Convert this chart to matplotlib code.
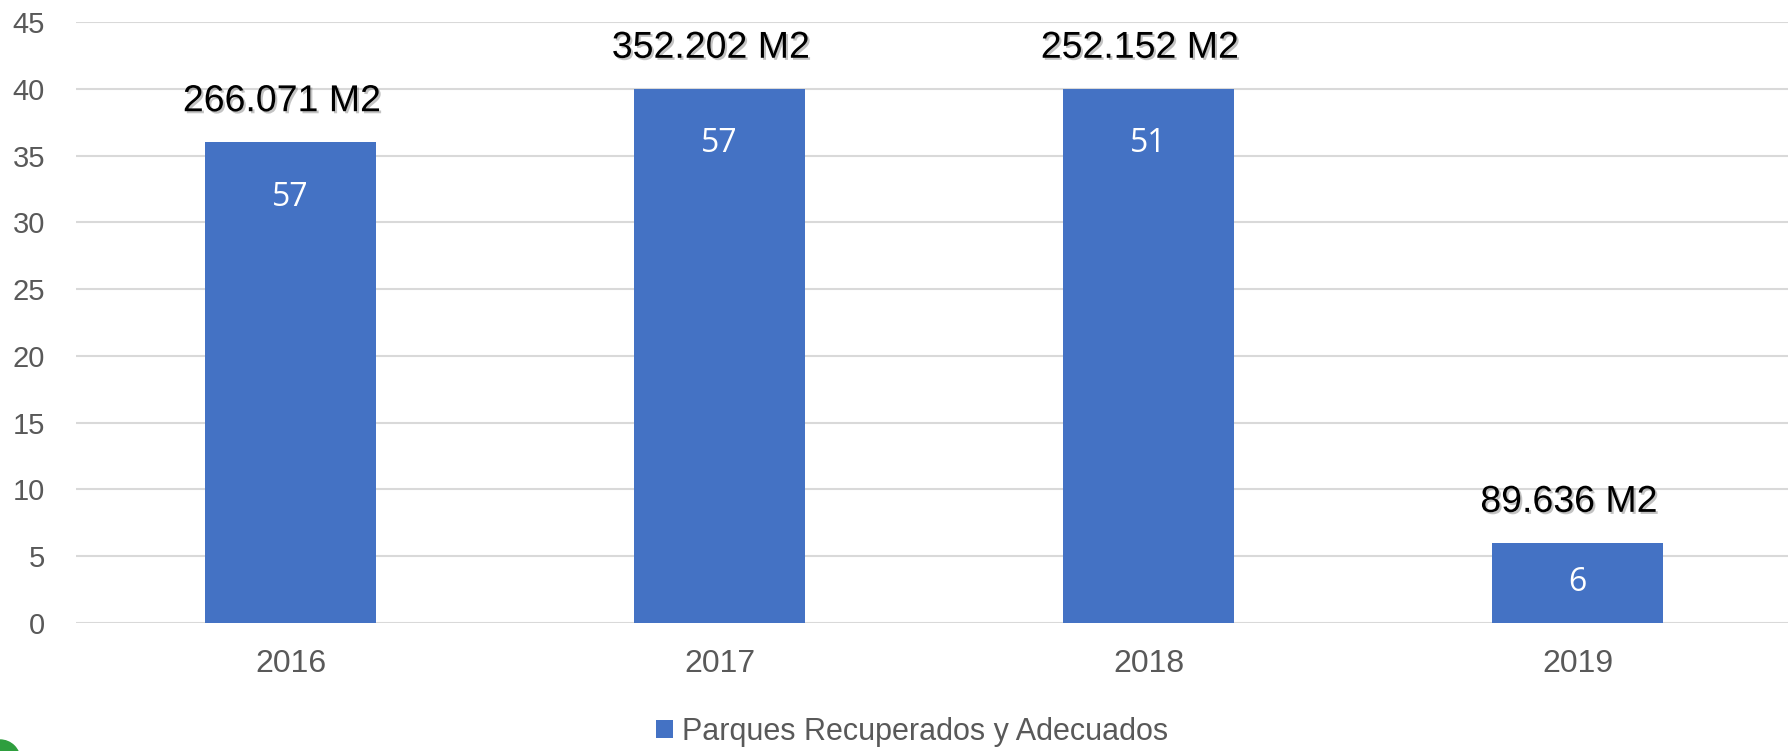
import matplotlib
matplotlib.use("Agg")
import matplotlib.pyplot as plt
import matplotlib.patheffects as pe
from matplotlib.patches import Ellipse

years = ["2016", "2017", "2018", "2019"]
heights = [36, 40, 40, 6]
inner_labels = ["57", "57", "51", "6"]
area_labels = ["266.071 M2", "352.202 M2", "252.152 M2", "89.636 M2"]
series_name = "Parques Recuperados y Adecuados"
yticks = [0, 5, 10, 15, 20, 25, 30, 35, 40, 45]

plt.rcParams['font.family'] = ['Liberation Sans', 'DejaVu Sans']

W, H, DPI = 1788, 751, 100
PT = 72 / DPI  # points per pixel
fig = plt.figure(figsize=(W / DPI, H / DPI), dpi=DPI)
ax = fig.add_axes([76 / W, 1 - 623 / H, 4 * 429 / W, (623 - 22) / H])

bar_color = "#4472C4"
x = list(range(len(years)))
bars = ax.bar(x, heights, width=0.4, color=bar_color, zorder=3, label=series_name)

ax.set_xlim(-0.5, 3.5)
ax.set_ylim(0, 45)
ax.set_yticks(yticks)
ax.set_xticks(x)
ax.set_xticklabels(years)
ax.yaxis.grid(True, color="#d9d9d9", linewidth=1.5, zorder=0)
ax.set_axisbelow(True)
for s in ax.spines.values():
    s.set_visible(False)
ax.tick_params(axis="y", length=0, pad=31 * PT, labelsize=21, labelcolor="#595959")
ax.tick_params(axis="x", length=0, pad=26 * PT, labelsize=23, labelcolor="#595959")

# pixels per data unit
ppu = (623 - 22) / 45.0
for xi, h, lab, area in zip(x, heights, inner_labels, area_labels):
    bar_px = h * ppu
    off_px = 55 if bar_px > 110 else bar_px / 2
    ax.annotate(lab, (xi, h), xytext=(0, -off_px * PT), textcoords="offset points",
                ha="center", va="center", color="white", fontsize=23,
                family=["Open Sans", "DejaVu Sans"], zorder=5)
    ax.annotate(area, (xi - 0.02, h), xytext=(0, 41 * PT), textcoords="offset points",
                ha="center", va="center", color="black", fontsize=27, zorder=5,
                path_effects=[pe.SimplePatchShadow(offset=(1.5, -1.5), alpha=0.35, shadow_rgbFace="#555555"),
                              pe.Normal()])

leg = fig.legend(handles=[bars], labels=[series_name], loc="center",
                 bbox_to_anchor=(912 / W, 1 - 732 / H), frameon=False,
                 fontsize=22, handlelength=0.55, handleheight=0.55, handletextpad=0.3,
                 borderpad=0, borderaxespad=0)
for t in leg.get_texts():
    t.set_color("#595959")

# small green logo fragment in bottom-left corner
fig.patches.append(Ellipse((0 / W, 1 - 760 / H), 2 * 20 / W, 2 * 20 / H,
                           transform=fig.transFigure, color="#2e9e3e", zorder=10))

fig.savefig("out.png", dpi=DPI)
